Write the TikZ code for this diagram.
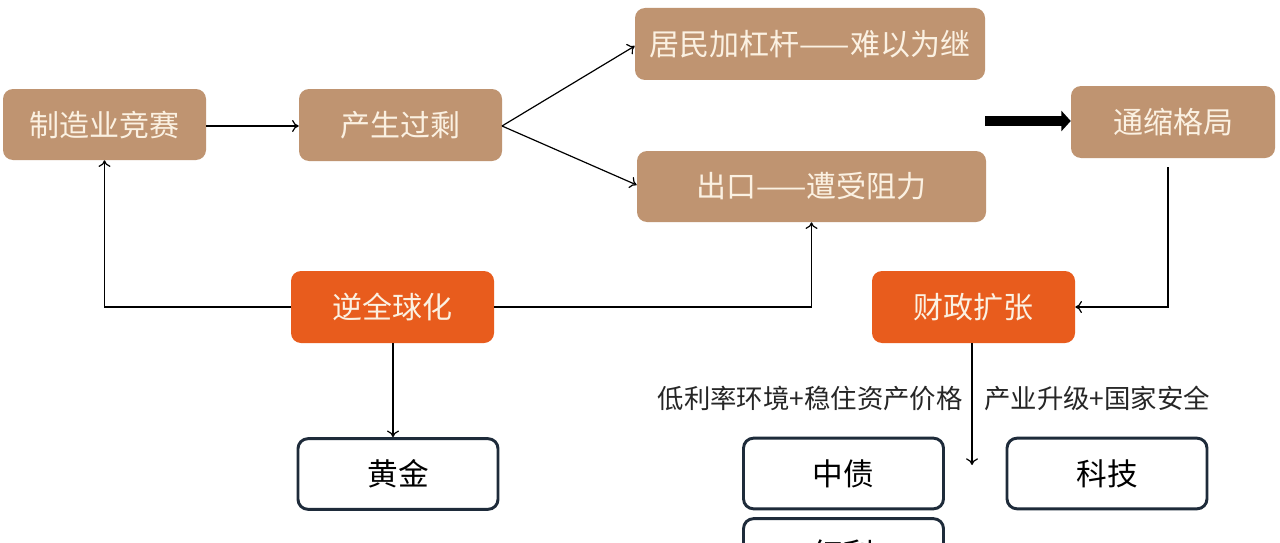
\documentclass[tikz,border=0pt]{standalone}
\usepackage{fontspec}
\setmainfont{Noto Sans CJK SC}
\usetikzlibrary{arrows.meta}
\definecolor{tan}{HTML}{BF9471}
\definecolor{orng}{HTML}{E85C1D}
\definecolor{cream}{HTML}{FBF1E2}
\definecolor{navy}{HTML}{1E2B3A}
\tikzset{
  tanbox/.style={rectangle, rounded corners=7.5pt, fill=tan, text=cream, inner sep=0pt,
    minimum height=54pt, font=\fontsize{22.5}{26}\selectfont},
  orbox/.style={tanbox, fill=orng},
  whbox/.style={rectangle, rounded corners=7.5pt, draw=navy, line width=2.2pt, fill=white,
    text=black, inner sep=0pt, minimum width=150pt, minimum height=53pt,
    font=\fontsize{23}{27}\selectfont},
  arr/.style={-{To[length=5pt,width=9pt]}, line width=0.9pt, black},
  lbl/.style={font=\fontsize{19.8}{23}\selectfont, text=black!85, inner sep=0pt},
}
\begin{document}
\begin{tikzpicture}[x=0.75pt,y=-0.75pt]
\useasboundingbox (0,0) rectangle (1280,542);
\clip (0,0) rectangle (1280,542);
\fill[white] (0,0) rectangle (1280,542);
% nodes
\node[tanbox, minimum width=152.25pt, minimum height=53.25pt] (zz) at (104.5,124.5) {制造业竞赛};
\node[tanbox, minimum width=152.25pt] (cs) at (400.5,125) {产生过剩};
\node[tanbox, minimum width=262.5pt] (jm) at (810,44) {居民加杠杆——难以为继};
\node[tanbox, minimum width=261.75pt, minimum height=53.25pt] (ck) at (811.5,186.5) {出口——遭受阻力};
\node[tanbox, minimum width=153pt] (ts) at (1173,122) {通缩格局};
\node[orbox, minimum width=152.25pt] (nq) at (392.5,307) {逆全球化};
\node[orbox, minimum width=152.25pt] (cz) at (973.5,307) {财政扩张};
\node[whbox] (hj) at (398,474) {黄金};
\node[whbox] (zh) at (843.5,473.5) {中债};
\node[whbox] (kj) at (1107,473.5) {科技};
\node[whbox] (hl) at (843.5,554) {红利};
% labels
\node[lbl, anchor=east] (l1) at (963,398) {低利率环境+稳住资产价格};
\node[lbl, anchor=west] (l2) at (984,398) {产业升级+国家安全};
% coordinates
\coordinate (tk) at (985,121);
\coordinate (t1) at (1168,167);
\coordinate (fe) at (972,465);
% connectors
\draw[arr] (zz.east |- 0,126) -- (cs.west |- 0,126);
\draw[arr] (502,126) -- (jm.west |- 0,46);
\draw[arr] (502,126) -- (ck.west |- 0,185);
\draw[arr] (nq.west) -| (zz.south);
\draw[arr] (nq.east) -| (ck.south);
\draw[arr] (nq.south -| 393,0) -- (hj.north -| 393,0);
\draw[arr] (t1) |- (cz.east);
\draw[arr] (cz.south -| fe) -- (fe);
\draw[line width=7.5pt, -{Triangle[length=7pt,width=15pt]}] (tk) -- (ts.west |- tk);
\end{tikzpicture}
\end{document}
